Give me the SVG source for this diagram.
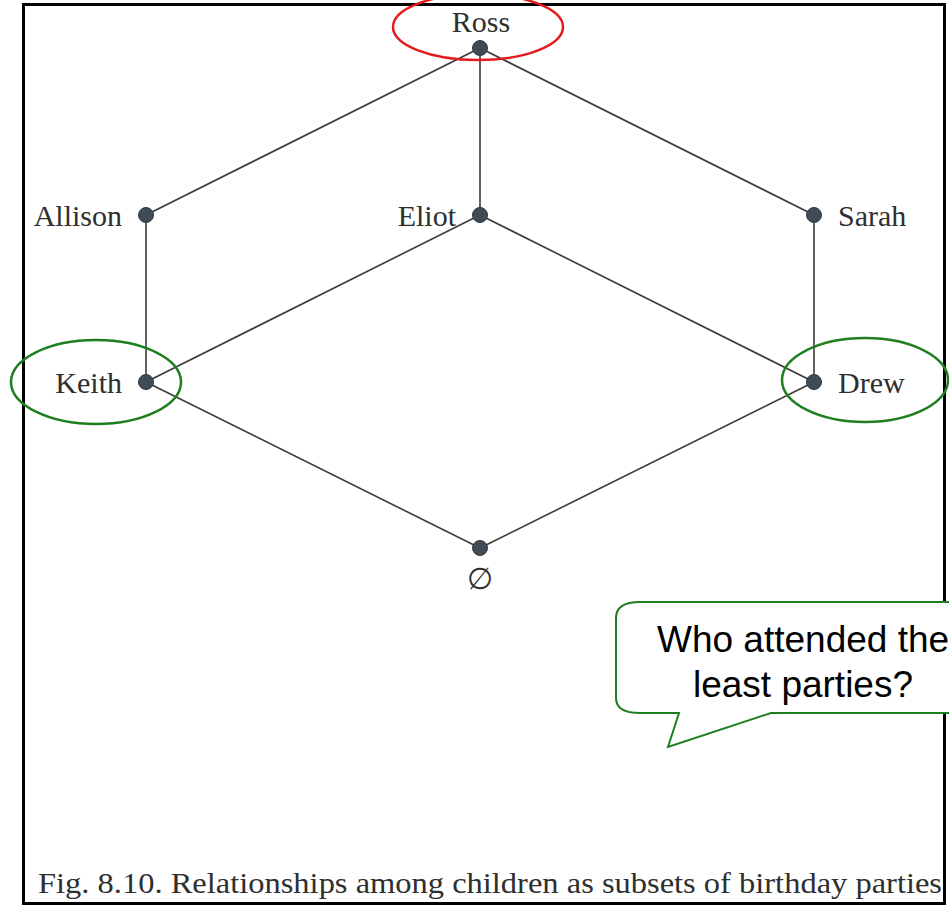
<svg xmlns="http://www.w3.org/2000/svg" width="949" height="914" viewBox="0 0 949 914">
  <style>
    .edge { stroke: #3a3a3a; stroke-width: 1.6; fill: none; }
    .dot { fill: #3f4c57; stroke: #2e3840; stroke-width: 1; }
    .lbl { font-family: "Liberation Serif", "Times New Roman", serif; font-size: 30px; fill: #2f2f2f; }
    .ring { fill: none; stroke-width: 2.5; }
    .callout { font-family: "Liberation Sans", Arial, sans-serif; font-size: 37px; fill: #000; }
  </style>
  <rect x="0" y="0" width="949" height="914" fill="#ffffff"/>
  <rect x="23.5" y="4.5" width="921" height="899" fill="#ffffff" stroke="#000" stroke-width="3"/>

  <g id="connectors">
    <line class="edge" x1="480" y1="48" x2="146" y2="215"/>
    <line class="edge" x1="480" y1="48" x2="480" y2="215"/>
    <line class="edge" x1="480" y1="48" x2="814" y2="215"/>
    <line class="edge" x1="146" y1="215" x2="146" y2="382"/>
    <line class="edge" x1="480" y1="215" x2="146" y2="382"/>
    <line class="edge" x1="480" y1="215" x2="814" y2="382"/>
    <line class="edge" x1="814" y1="215" x2="814" y2="382"/>
    <line class="edge" x1="146" y1="382" x2="480" y2="548"/>
    <line class="edge" x1="814" y1="382" x2="480" y2="548"/>
  </g>

  <g id="ross">
    <circle class="dot" cx="480" cy="48" r="7.5"/>
    <text class="lbl" x="481" y="32" text-anchor="middle">Ross</text>
  </g>
  <g id="allison">
    <circle class="dot" cx="146" cy="215" r="7.5"/>
    <text class="lbl" x="122" y="226" text-anchor="end">Allison</text>
  </g>
  <g id="eliot">
    <circle class="dot" cx="480" cy="215" r="7.5"/>
    <text class="lbl" x="456" y="226" text-anchor="end">Eliot</text>
  </g>
  <g id="sarah">
    <circle class="dot" cx="814" cy="215" r="7.5"/>
    <text class="lbl" x="838" y="226">Sarah</text>
  </g>
  <g id="keith">
    <circle class="dot" cx="146" cy="382" r="7.5"/>
    <text class="lbl" x="122" y="393" text-anchor="end">Keith</text>
  </g>
  <g id="drew">
    <circle class="dot" cx="814" cy="382" r="7.5"/>
    <text class="lbl" x="838" y="393">Drew</text>
  </g>
  <g id="empty">
    <circle class="dot" cx="480" cy="548" r="7.5"/>
    <text class="lbl" x="480" y="589" text-anchor="middle">∅</text>
  </g>

  <g id="highlights">
    <ellipse class="ring" cx="478" cy="27" rx="85" ry="33" stroke="#e31b1b"/>
    <ellipse class="ring" cx="96" cy="382" rx="85" ry="42" stroke="#1f7f1f"/>
    <ellipse class="ring" cx="865" cy="380" rx="83" ry="42" stroke="#1f7f1f"/>
  </g>

  <g id="question">
    <path d="M 640 602 L 960 602 L 960 713 L 771 713 L 668 747 L 679 713 L 640 713 Q 616 713 616 698 L 616 618 Q 616 602 640 602 Z" fill="#ffffff" stroke="#1f7f1f" stroke-width="2"/>
    <text class="callout" x="657" y="652">Who attended the</text>
    <text class="callout" x="803" y="697" text-anchor="middle">least parties?</text>
  </g>

  <text class="lbl" x="38" y="893" font-size="28" textLength="904" lengthAdjust="spacingAndGlyphs">Fig. 8.10.  Relationships among children as subsets of birthday parties</text>
</svg>
